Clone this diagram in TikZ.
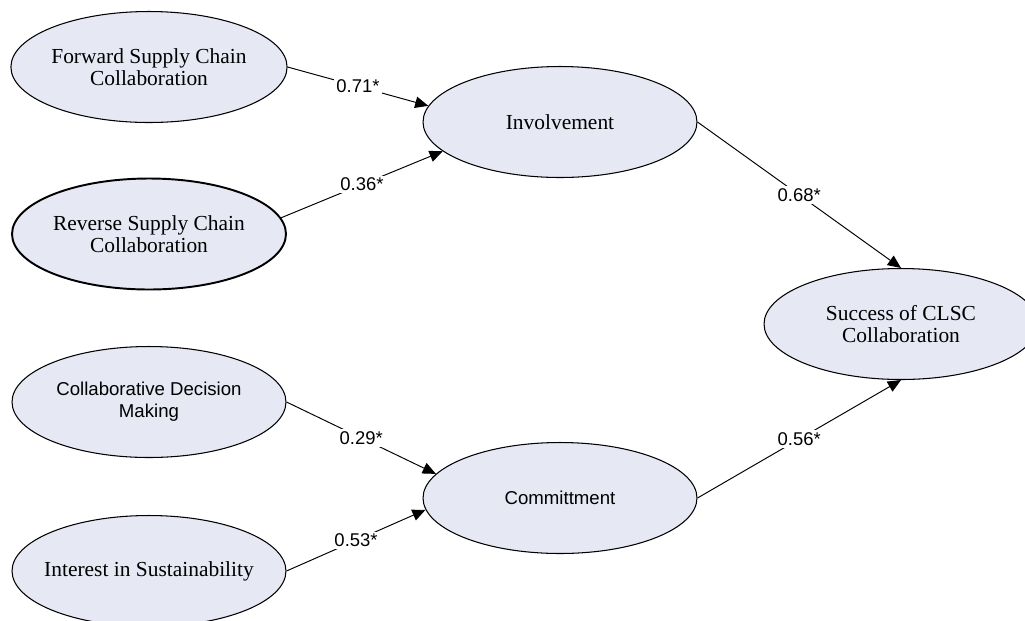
\documentclass[tikz,border=0pt]{standalone}
\usepackage{fontspec}
\setmainfont{Liberation Serif}
\setsansfont{Liberation Sans}
\usepackage{tikz}
\usetikzlibrary{shapes.geometric,arrows.meta}

\definecolor{nodefill}{RGB}{230,232,244}

\tikzset{
  construct/.style={ellipse, draw, fill=nodefill, line width=0.6pt, inner sep=0pt,
    minimum width=5.48cm, minimum height=2.22cm, align=center},
  serif/.style={font=\rmfamily\fontsize{12.2}{12.5}\selectfont},
  sans/.style={font=\sffamily\fontsize{10.6}{12.5}\selectfont},
  path/.style={-{Triangle[length=7.5pt,width=6.5pt]}, line width=0.55pt},
  coef/.style={midway, fill=white, inner sep=1.2pt, font=\sffamily\fontsize{10.5}{12}\selectfont}
}

\begin{document}
\begin{tikzpicture}[x=0.02cm, y=-0.02cm]
        \clip (0,0) rectangle (1025,620);
        \fill[white] (0,0) rectangle (1025,620);
        % Exogenous constructs
        \node[construct, serif] (fsc) at (149,67) {Forward Supply Chain\\Collaboration};
        \node[construct, serif, line width=1.1pt] (rsc) at (149,234) {Reverse Supply Chain\\Collaboration};
        \node[construct, sans] (cdm) at (149,402) {Collaborative Decision\\Making};
        \node[construct, serif, inner xsep=-0.3cm] (isus) at (149,571) {Interest in Sustainability};
        % Mediators and outcome
        \node[construct, serif] (inv) at (560,122) {Involvement};
        \node[construct, sans] (com) at (560,498) {Committment};
        \node[construct, serif] (succ) at (901,324) {Success of CLSC\\Collaboration};
        % Paths with coefficients
        \draw[path] (fsc.east) -- node[coef] {0.71*} (inv.173);
        \draw[path] (rsc.7) -- node[coef] {0.36*} (inv.194);
        \draw[path] (cdm.east) -- node[coef] {0.29*} (com.169);
        \draw[path] (isus.east) -- node[coef] {0.53*} (com.185);
        \draw[path] (inv.east) -- node[coef] {0.68*} (succ.north);
        \draw[path] (com.east) -- node[coef] {0.56*} (succ.south);
    \end{tikzpicture}
\end{document}
